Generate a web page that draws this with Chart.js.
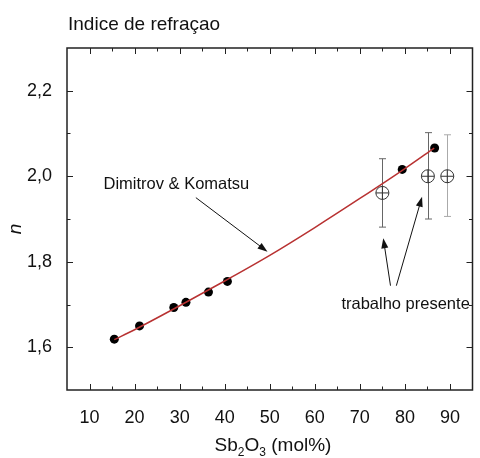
<!DOCTYPE html>
<html>
<head>
<meta charset="utf-8">
<script src="https://cdn.jsdelivr.net/npm/chart.js@4.4.1/dist/chart.umd.min.js"></script>
<style>
  body { margin: 0; background: #fff; }
  canvas { display: block; }
</style>
</head>
<body>
<canvas id="c" width="480" height="458"></canvas>
<script>
// axis ticks
var xTickValues = [10, 20, 30, 40, 50, 60, 70, 80, 90];
var xMinorValues = [15, 25, 35, 45, 55, 65, 75, 85];
var yTickValues = [1.6, 1.8, 2.0, 2.2];
var yTickLabels = ['1,6', '1,8', '2,0', '2,2'];
var yMinorValues = [1.7, 1.9, 2.1];

// Dimitrov & Komatsu curve
var fitX = [15.5, 20, 30, 40, 50, 60, 70, 80, 86.5];
var fitN = [1.618, 1.641, 1.697, 1.755, 1.815, 1.880, 1.948, 2.018, 2.066];

// literature points
var litX = [15.5, 21.1, 28.7, 31.4, 36.4, 40.6, 79.4, 86.6];
var litN = [1.619, 1.650, 1.693, 1.705, 1.729, 1.754, 2.016, 2.066];

// trabalho presente
var presX = [75.0, 85.1, 89.4];
var presN = [1.961, 2.000, 2.000];
var presLow = [1.881, 1.900, 1.906];
var presHigh = [2.041, 2.102, 2.097];

var FONT = "'Liberation Sans', Arial, sans-serif";

function pts(xs, ys) {
  return xs.map(function (x, i) { return { x: x, y: ys[i] }; });
}

function arrow(ctx, x1, y1, x2, y2) {
  var a = Math.atan2(y2 - y1, x2 - x1);
  var len = 10, hw = 3.5;
  ctx.beginPath();
  ctx.moveTo(x1, y1);
  ctx.lineTo(x2 - Math.cos(a) * len * 0.8, y2 - Math.sin(a) * len * 0.8);
  ctx.stroke();
  ctx.beginPath();
  ctx.moveTo(x2, y2);
  ctx.lineTo(x2 - Math.cos(a) * len - Math.sin(a) * hw, y2 - Math.sin(a) * len + Math.cos(a) * hw);
  ctx.lineTo(x2 - Math.cos(a) * len + Math.sin(a) * hw, y2 - Math.sin(a) * len - Math.cos(a) * hw);
  ctx.closePath();
  ctx.fill();
}

var errorBars = {
  id: 'errorBars',
  beforeDatasetsDraw: function (chart) {
    var ctx = chart.ctx, xs = chart.scales.x, ys = chart.scales.y;
    var colors = ['#666', '#666', '#aaa'];
    ctx.save();
    ctx.lineWidth = 1;
    presX.forEach(function (x, i) {
      var px = Math.round(xs.getPixelForValue(x)) + 0.5;
      var lo = ys.getPixelForValue(presLow[i]);
      var hi = ys.getPixelForValue(presHigh[i]);
      ctx.strokeStyle = colors[i];
      ctx.beginPath();
      ctx.moveTo(px, lo); ctx.lineTo(px, hi);
      ctx.moveTo(px - 3.5, lo); ctx.lineTo(px + 3.5, lo);
      ctx.moveTo(px - 3.5, hi); ctx.lineTo(px + 3.5, hi);
      ctx.stroke();
    });
    ctx.restore();
  }
};

var frame = {
  id: 'frame',
  afterDraw: function (chart) {
    var ctx = chart.ctx, a = chart.chartArea;
    var xs = chart.scales.x, ys = chart.scales.y;
    ctx.save();
    ctx.strokeStyle = '#222';
    ctx.lineWidth = 1.5;
    ctx.strokeRect(a.left, a.top, a.right - a.left, a.bottom - a.top);

    ctx.lineWidth = 1;
    ctx.beginPath();
    function xt(v, l) {
      var p = Math.round(xs.getPixelForValue(v)) + 0.5;
      ctx.moveTo(p, a.bottom); ctx.lineTo(p, a.bottom - l);
      ctx.moveTo(p, a.top); ctx.lineTo(p, a.top + l);
    }
    function yt(v, l) {
      var p = Math.round(ys.getPixelForValue(v)) + 0.5;
      ctx.moveTo(a.left, p); ctx.lineTo(a.left + l, p);
      ctx.moveTo(a.right, p); ctx.lineTo(a.right - l, p);
    }
    xTickValues.forEach(function (v) { xt(v, 6); });
    xMinorValues.forEach(function (v) { xt(v, 3.5); });
    yTickValues.forEach(function (v) { yt(v, 6); });
    yMinorValues.forEach(function (v) { yt(v, 3.5); });
    ctx.stroke();

    // title
    ctx.fillStyle = '#111';
    ctx.textBaseline = 'alphabetic';
    ctx.textAlign = 'left';
    ctx.font = '19px ' + FONT;
    ctx.fillText('Indice de refraçao', 68, 30);

    // x axis title with subscripts
    var big = '19px ' + FONT, small = '12px ' + FONT;
    var parts = [['Sb', big, 0], ['2', small, 5], ['O', big, 0], ['3', small, 5], [' (mol%)', big, 0]];
    var w = 0;
    parts.forEach(function (p) { ctx.font = p[1]; w += ctx.measureText(p[0]).width; });
    var cx = 273 - w / 2;
    parts.forEach(function (p) {
      ctx.font = p[1];
      ctx.fillText(p[0], cx, 451 + p[2]);
      cx += ctx.measureText(p[0]).width;
    });

    // y axis title
    ctx.save();
    ctx.translate(16, 229);
    ctx.rotate(-Math.PI / 2);
    ctx.font = 'italic 19px ' + FONT;
    ctx.textAlign = 'center';
    ctx.textBaseline = 'middle';
    ctx.fillText('n', 0, 0);
    ctx.restore();

    // annotations
    ctx.font = '16.5px ' + FONT;
    ctx.textBaseline = 'middle';
    ctx.textAlign = 'left';
    ctx.fillText('Dimitrov & Komatsu', xs.getPixelForValue(13.1), ys.getPixelForValue(1.98));
    ctx.fillText('trabalho presente', xs.getPixelForValue(65.9), ys.getPixelForValue(1.699));

    ctx.strokeStyle = '#111';
    ctx.fillStyle = '#111';
    ctx.lineWidth = 1;
    function ar(x1, y1, x2, y2) {
      arrow(ctx, xs.getPixelForValue(x1), ys.getPixelForValue(y1),
        xs.getPixelForValue(x2), ys.getPixelForValue(y2));
    }
    ar(33.6, 1.95, 49.5, 1.8235);
    ar(76.8, 1.744, 75.2, 1.855);
    ar(78.1, 1.744, 83.8, 1.952);
    ctx.restore();
  }
};

new Chart(document.getElementById('c'), {
  type: 'scatter',
  data: {
    datasets: [
      {
        type: 'line',
        data: pts(fitX, fitN),
        borderColor: '#b83232',
        borderWidth: 1.5,
        pointRadius: 0,
        fill: false,
        cubicInterpolationMode: 'monotone'
      },
      {
        data: pts(litX, litN),
        backgroundColor: '#000',
        borderColor: '#000',
        pointRadius: 4.5,
        borderWidth: 0
      },
      {
        data: pts(presX, presN),
        pointStyle: 'circle',
        backgroundColor: 'rgba(255,255,255,0)',
        borderColor: '#333',
        borderWidth: 1,
        pointRadius: 6.5
      },
      {
        data: pts(presX, presN),
        pointStyle: 'cross',
        borderColor: '#333',
        borderWidth: 1,
        pointRadius: 6.5
      }
    ]
  },
  options: {
    responsive: false,
    animation: false,
    layout: { padding: { top: 48, right: 1, left: 0, bottom: 0 } },
    plugins: { legend: { display: false }, tooltip: { enabled: false } },
    scales: {
      x: {
        type: 'linear',
        min: 5,
        max: 95,
        grid: { display: false },
        border: { display: false },
        ticks: { font: { size: 18, family: FONT }, color: '#111', padding: 9 },
        afterBuildTicks: function (s) { s.ticks = xTickValues.map(function (v) { return { value: v }; }); },
        afterFit: function (s) { s.height = 68; }
      },
      y: {
        min: 1.5,
        max: 2.3,
        grid: { display: false },
        border: { display: false },
        ticks: {
          font: { size: 18, family: FONT },
          color: '#111',
          padding: 7,
          callback: function (v, i) { return yTickLabels[i]; }
        },
        afterBuildTicks: function (s) { s.ticks = yTickValues.map(function (v) { return { value: v }; }); },
        afterFit: function (s) { s.width = 67; }
      }
    }
  },
  plugins: [errorBars, frame]
});
</script>
</body>
</html>
